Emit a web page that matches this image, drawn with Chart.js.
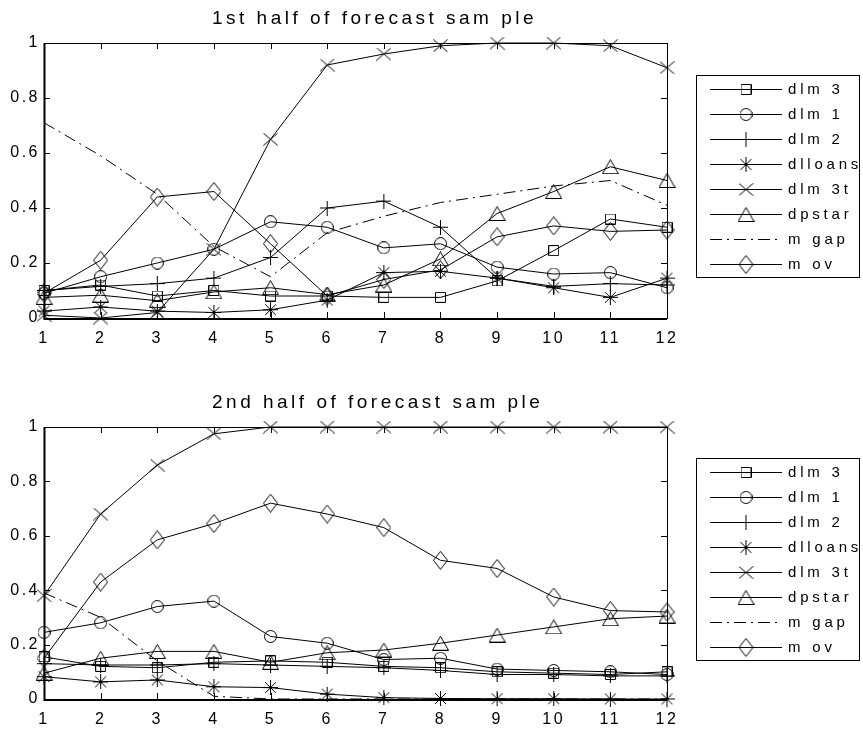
<!DOCTYPE html>
<html>
<head>
<meta charset="utf-8">
<script src="https://cdn.jsdelivr.net/npm/chart.js@4/dist/chart.umd.min.js"></script>
<style>
  html, body { margin: 0; padding: 0; background: #fff; }
  #wrap { position: relative; width: 863px; height: 730px; }
  canvas { position: absolute; left: 0; }
  #top { top: 0; }
  #bottom { top: 365px; }
</style>
</head>
<body>
<div id="wrap">
  <canvas id="top" width="863" height="365"></canvas>
  <canvas id="bottom" width="863" height="365"></canvas>
</div>
<script>
// data
const xLabels = ['1', '2', '3', '4', '5', '6', '7', '8', '9', '10', '11', '12'];
const yTicks = [0, 0.2, 0.4, 0.6, 0.8, 1];
const seriesNames = ['dlm 3', 'dlm 1', 'dlm 2', 'dlloans', 'dlm 3t', 'dpstar', 'm gap', 'm ov'];

// 1st half of forecast sample
const topDlm3    = [0.10, 0.12, 0.08, 0.10, 0.08, 0.08, 0.075, 0.075, 0.135, 0.245, 0.36, 0.33];
const topDlm1    = [0.09, 0.15, 0.20, 0.25, 0.35, 0.33, 0.255, 0.27, 0.185, 0.16, 0.165, 0.11];
const topDlm2    = [0.10, 0.115, 0.125, 0.145, 0.22, 0.40, 0.425, 0.33, 0.145, 0.115, 0.125, 0.12];
const topDlloans = [0.025, 0.04, 0.025, 0.02, 0.03, 0.065, 0.165, 0.17, 0.145, 0.11, 0.075, 0.145];
const topDlm3t   = [0.01, 0.0, 0.02, 0.25, 0.65, 0.92, 0.96, 0.99, 1.0, 1.0, 0.99, 0.91];
const topDpstar  = [0.075, 0.083, 0.063, 0.095, 0.11, 0.085, 0.12, 0.215, 0.38, 0.46, 0.55, 0.50];
const topMgap    = [0.71, 0.59, 0.45, 0.26, 0.15, 0.31, 0.37, 0.42, 0.45, 0.48, 0.50, 0.41];
const topMov     = [0.09, 0.21, 0.44, 0.46, 0.27, 0.08, 0.14, 0.175, 0.295, 0.335, 0.315, 0.32];

// 2nd half of forecast sample
const botDlm3    = [0.155, 0.12, 0.115, 0.135, 0.14, 0.135, 0.12, 0.115, 0.10, 0.095, 0.09, 0.10];
const botDlm1    = [0.245, 0.28, 0.34, 0.36, 0.23, 0.205, 0.145, 0.15, 0.11, 0.105, 0.10, 0.09];
const botDlm2    = [0.13, 0.125, 0.125, 0.13, 0.125, 0.12, 0.115, 0.105, 0.09, 0.09, 0.085, 0.085];
const botDlloans = [0.082, 0.063, 0.07, 0.045, 0.042, 0.018, 0.005, 0.002, 0.001, 0.001, 0.0, 0.0];
const botDlm3t   = [0.38, 0.68, 0.86, 0.975, 1, 1, 1, 1, 1, 1, 1, 1];
const botDpstar  = [0.095, 0.15, 0.175, 0.175, 0.135, 0.17, 0.18, 0.205, 0.235, 0.265, 0.295, 0.305];
const botMgap    = [0.39, 0.30, 0.14, 0.01, 0, 0, 0, 0, 0, 0, 0, 0];
const botMov     = [0.15, 0.43, 0.585, 0.645, 0.72, 0.68, 0.63, 0.51, 0.48, 0.375, 0.325, 0.32];

const FONT = "'Liberation Sans', Arial, sans-serif";

// matlab style markers, drawn once on small canvases
function makeMarker(kind) {
    const sizes = { square: [11, 11], circle: [13, 13], plus: [15, 15], star: [15, 15],
                    x: [15, 13], tri: [17, 15], diamond: [15, 19] };
    const w = sizes[kind][0], h = sizes[kind][1];
    const c = document.createElement('canvas');
    c.width = w; c.height = h;
    const g = c.getContext('2d');
    g.strokeStyle = '#000';
    g.lineWidth = 1;
    const cx = w / 2, cy = h / 2;
    g.beginPath();
    if (kind === 'square') {
        g.rect(0.5, 0.5, w - 1, h - 1);
    } else if (kind === 'circle') {
        g.arc(cx, cy, cx - 0.5, 0, Math.PI * 2);
    } else if (kind === 'plus') {
        g.moveTo(cx, 0); g.lineTo(cx, h);
        g.moveTo(0, cy); g.lineTo(w, cy);
    } else if (kind === 'star') {
        g.moveTo(cx, 0); g.lineTo(cx, h);
        g.moveTo(0, cy); g.lineTo(w, cy);
        const d = cx * 0.72;
        g.moveTo(cx - d, cy - d); g.lineTo(cx + d, cy + d);
        g.moveTo(cx + d, cy - d); g.lineTo(cx - d, cy + d);
    } else if (kind === 'x') {
        g.moveTo(0.5, 0.5); g.lineTo(w - 0.5, h - 0.5);
        g.moveTo(w - 0.5, 0.5); g.lineTo(0.5, h - 0.5);
    } else if (kind === 'tri') {
        g.moveTo(cx, 0.5); g.lineTo(w - 0.5, h - 0.5); g.lineTo(0.5, h - 0.5); g.closePath();
    } else if (kind === 'diamond') {
        g.moveTo(cx, 0.5); g.lineTo(w - 0.5, cy); g.lineTo(cx, h - 0.5); g.lineTo(0.5, cy); g.closePath();
    }
    g.stroke();
    return c;
}

const markers = ['square', 'circle', 'plus', 'star', 'x', 'tri', null, 'diamond'].map(k => k ? makeMarker(k) : null);

function buildDatasets(series) {
    return seriesNames.map((name, i) => ({
        label: name,
        data: series[i],
        borderColor: '#000',
        borderWidth: 1,
        borderDash: name === 'm gap' ? [12, 5, 2, 5] : [],
        pointStyle: markers[i] || false,
        pointRadius: markers[i] ? 5 : 0,
        clip: false,
        fill: false,
        tension: 0
    }));
}

// title, inward ticks, box and legend like the matlab figure
const figurePlugin = {
    id: 'figure',
    beforeDraw(chart) {
        chart.ctx.letterSpacing = '2.5px';
    },
    afterDatasetsDraw(chart, args, opts) {
        const ctx = chart.ctx;
        const a = chart.chartArea;
        const xs = chart.scales.x, ys = chart.scales.y;
        ctx.save();
        ctx.strokeStyle = '#000';
        ctx.lineWidth = 1;
        ctx.beginPath();
        xLabels.forEach((l, i) => {
            const px = Math.round(xs.getPixelForValue(i)) + 0.5;
            ctx.moveTo(px, a.bottom); ctx.lineTo(px, a.bottom - 6);
            ctx.moveTo(px, a.top); ctx.lineTo(px, a.top + 6);
        });
        yTicks.forEach(v => {
            const py = Math.round(ys.getPixelForValue(v)) + 0.5;
            ctx.moveTo(a.left, py); ctx.lineTo(a.left + 6, py);
            ctx.moveTo(a.right, py); ctx.lineTo(a.right - 6, py);
        });
        ctx.stroke();
        // axes box
        ctx.lineWidth = 1;
        ctx.strokeRect(Math.round(a.left) + 0.5, Math.round(a.top) + 0.5,
                       Math.round(a.right - a.left), Math.round(a.bottom - a.top));
        ctx.lineWidth = 2;
        ctx.beginPath();
        ctx.moveTo(Math.round(a.left) + 0.5, a.top);
        ctx.lineTo(Math.round(a.left) + 0.5, Math.round(a.bottom) + 1);
        ctx.lineTo(a.right, Math.round(a.bottom) + 1);
        ctx.stroke();

        // title
        ctx.fillStyle = '#000';
        ctx.font = '19px ' + FONT;
        ctx.letterSpacing = '3.5px';
        ctx.textAlign = 'left';
        ctx.textBaseline = 'middle';
        ctx.fillText(opts.title, 212, opts.titleY);

        // legend
        const lg = opts.legend;
        ctx.lineWidth = 1;
        ctx.strokeRect(lg.x + 0.5, lg.y + 0.5, lg.w, lg.h);
        ctx.font = '15px ' + FONT;
        ctx.letterSpacing = '3.8px';
        chart.data.datasets.forEach((ds, i) => {
            const ry = Math.round(lg.y + lg.first + i * lg.step) + 0.5;
            ctx.beginPath();
            ctx.setLineDash(ds.borderDash);
            ctx.moveTo(710, ry); ctx.lineTo(782, ry);
            ctx.stroke();
            ctx.setLineDash([]);
            if (ds.pointStyle) {
                const m = ds.pointStyle;
                ctx.drawImage(m, 746 - m.width / 2, ry - m.height / 2);
            }
            ctx.fillText(ds.label, 788, ry);
        });
        ctx.restore();
    }
};

function makeChart(id, series, title, padTop, xAxisH, padBottom, titleY, legend) {
    const ctx = document.getElementById(id).getContext('2d');
    return new Chart(ctx, {
        type: 'line',
        data: { labels: xLabels, datasets: buildDatasets(series) },
        options: {
            responsive: false,
            animation: false,
            events: [],
            layout: { padding: { top: padTop, left: 0, right: 196, bottom: padBottom } },
            plugins: {
                legend: { display: false },
                tooltip: { enabled: false },
                figure: { title: title, titleY: titleY, legend: legend }
            },
            scales: {
                x: {
                    type: 'category',
                    offset: false,
                    grid: { display: false, drawTicks: false },
                    border: { display: false },
                    ticks: { color: '#000', font: { family: FONT, size: 16 }, padding: 11, maxRotation: 0, autoSkip: false },
                    afterFit: s => { s.height = xAxisH; }
                },
                y: {
                    min: 0,
                    max: 1,
                    grid: { display: false, drawTicks: false },
                    border: { display: false },
                    afterBuildTicks: s => { s.ticks = yTicks.map(v => ({ value: v })); },
                    ticks: {
                        color: '#000',
                        font: { family: FONT, size: 16 },
                        padding: 4,
                        callback: v => String(+v.toFixed(1))
                    },
                    afterFit: s => { s.width = 44; }
                }
            }
        },
        plugins: [figurePlugin]
    });
}

makeChart('top',
    [topDlm3, topDlm1, topDlm2, topDlloans, topDlm3t, topDpstar, topMgap, topMov],
    '1st half of forecast sam ple', 43, 40, 7, 19,
    { x: 696, y: 75, w: 163, h: 202, first: 14, step: 25 });

makeChart('bottom',
    [botDlm3, botDlm1, botDlm2, botDlloans, botDlm3t, botDpstar, botMgap, botMov],
    '2nd half of forecast sam ple', 62, 30, 1, 38,
    { x: 696, y: 93, w: 163, h: 202, first: 14, step: 25 });
</script>
</body>
</html>
